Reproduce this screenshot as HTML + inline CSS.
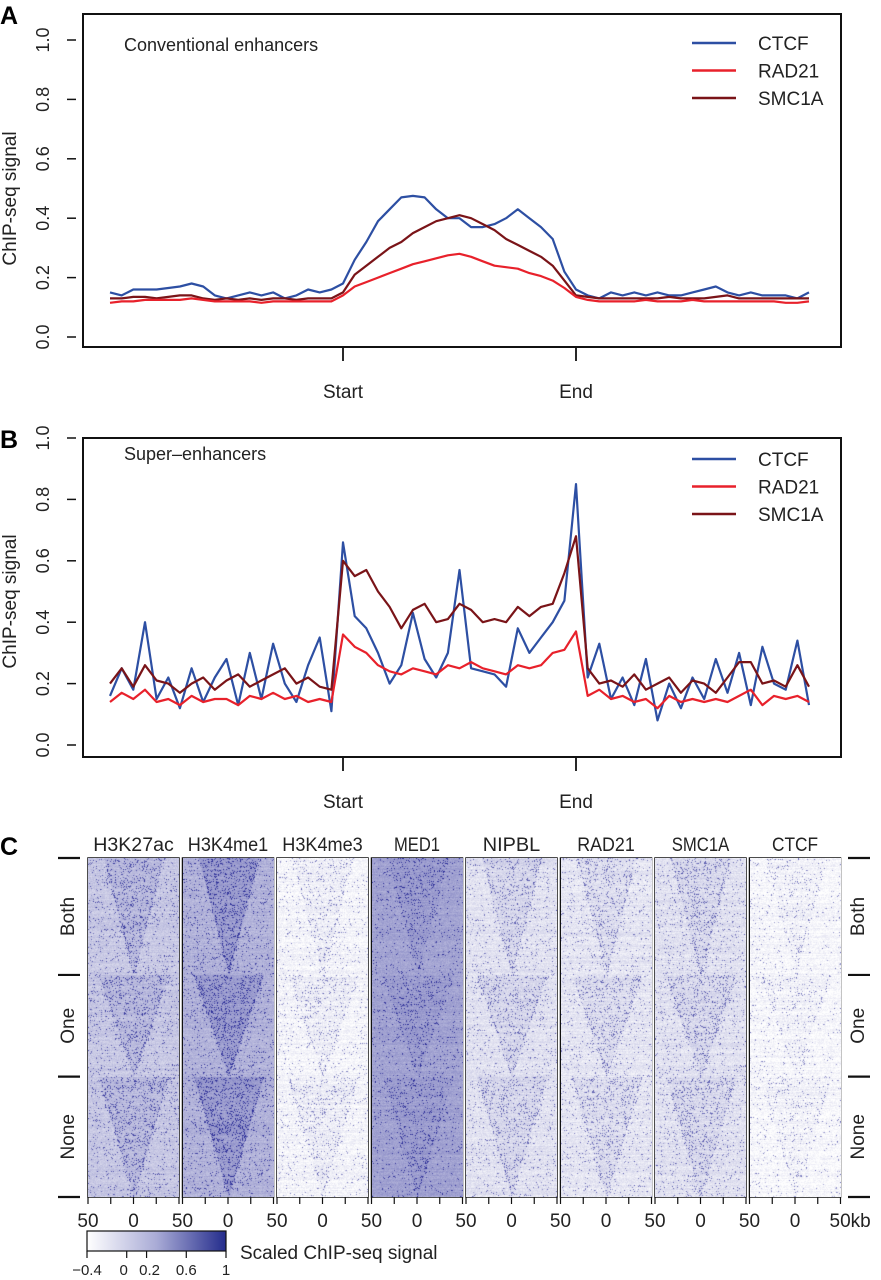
<!DOCTYPE html>
<html><head><meta charset="utf-8"><style>
html,body{margin:0;padding:0;background:#fff;}
#wrap{position:relative;width:881px;height:1280px;overflow:hidden;font-family:"Liberation Sans",sans-serif;}
svg{position:absolute;left:0;top:0;}
canvas{position:absolute;}
</style></head><body>
<div id="wrap">
<svg id="svg" width="881" height="1280"></svg>
</div>
<script>
// ---- data ----
const seriesNames = ["CTCF","RAD21","SMC1A"];
const seriesColors = ["#2d4fa3","#e8212b","#7a1418"];
// x-bins: -1..2 (Start=0, End=1), step 0.05
const aCTCF = [0.15,0.14,0.16,0.16,0.16,0.165,0.17,0.18,0.17,0.14,0.13,0.14,0.15,0.14,0.15,0.13,0.14,0.16,0.15,0.16,
0.18,0.26,0.32,0.39,0.43,0.47,0.475,0.47,0.43,0.40,0.40,0.37,0.37,0.38,0.40,0.43,0.40,0.37,0.33,0.22,0.16,
0.14,0.13,0.15,0.14,0.15,0.14,0.15,0.14,0.14,0.15,0.16,0.17,0.15,0.14,0.15,0.14,0.14,0.14,0.13,0.15];
const aRAD21 = [0.115,0.12,0.12,0.125,0.125,0.125,0.125,0.13,0.125,0.12,0.12,0.12,0.12,0.115,0.12,0.12,0.12,0.12,0.12,0.12,
0.14,0.17,0.185,0.20,0.215,0.23,0.245,0.255,0.265,0.275,0.28,0.27,0.255,0.24,0.235,0.23,0.215,0.205,0.19,0.165,0.135,
0.125,0.12,0.12,0.12,0.12,0.125,0.12,0.12,0.12,0.125,0.12,0.12,0.12,0.12,0.12,0.12,0.12,0.115,0.115,0.12];
const aSMC1A = [0.13,0.13,0.135,0.135,0.13,0.135,0.14,0.14,0.13,0.125,0.13,0.125,0.13,0.125,0.13,0.13,0.125,0.13,0.13,0.13,
0.15,0.21,0.24,0.27,0.30,0.32,0.35,0.37,0.39,0.40,0.41,0.40,0.38,0.36,0.33,0.31,0.29,0.27,0.24,0.19,0.14,
0.135,0.13,0.13,0.13,0.13,0.13,0.13,0.135,0.13,0.13,0.13,0.135,0.14,0.13,0.13,0.13,0.13,0.13,0.13,0.13];
const bCTCF = [0.16,0.25,0.18,0.40,0.15,0.22,0.12,0.25,0.14,0.22,0.28,0.13,0.30,0.15,0.33,0.20,0.14,0.26,0.35,0.11,
0.66,0.42,0.38,0.30,0.20,0.26,0.43,0.28,0.22,0.30,0.57,0.25,0.24,0.23,0.19,0.38,0.30,0.35,0.40,0.47,0.85,
0.22,0.33,0.15,0.22,0.13,0.28,0.08,0.20,0.12,0.22,0.15,0.28,0.17,0.30,0.13,0.32,0.20,0.18,0.34,0.13];
const bRAD21 = [0.14,0.17,0.15,0.18,0.14,0.15,0.13,0.16,0.14,0.15,0.15,0.13,0.16,0.15,0.17,0.15,0.16,0.14,0.15,0.14,
0.36,0.32,0.30,0.26,0.24,0.23,0.25,0.24,0.23,0.26,0.25,0.27,0.25,0.24,0.23,0.26,0.25,0.26,0.30,0.31,0.37,
0.16,0.18,0.15,0.16,0.14,0.15,0.12,0.16,0.14,0.15,0.14,0.15,0.14,0.16,0.18,0.13,0.16,0.15,0.16,0.14];
const bSMC1A = [0.20,0.25,0.19,0.26,0.21,0.20,0.17,0.20,0.22,0.18,0.21,0.23,0.19,0.21,0.23,0.25,0.20,0.22,0.19,0.18,
0.60,0.55,0.57,0.50,0.45,0.38,0.44,0.46,0.40,0.41,0.46,0.44,0.40,0.41,0.40,0.45,0.42,0.45,0.46,0.56,0.68,
0.25,0.20,0.21,0.19,0.23,0.18,0.20,0.22,0.17,0.21,0.20,0.17,0.22,0.27,0.27,0.20,0.21,0.19,0.26,0.19];
const yTicks = [0.0,0.2,0.4,0.6,0.8,1.0];
const yTickLabels = ["0.0","0.2","0.4","0.6","0.8","1.0"];
const xTickPos = [0,1];
const xTickLabels = ["Start","End"];
const marks = ["H3K27ac","H3K4me1","H3K4me3","MED1","NIPBL","RAD21","SMC1A","CTCF"];
const bgLevel = [0.26,0.36,0.05,0.44,0.14,0.12,0.14,0.04];
const wedgeLevel = [0.32,0.46,0.08,0.47,0.19,0.16,0.18,0.06];
const speckle = [0.09,0.10,0.05,0.06,0.07,0.07,0.08,0.04];
const groups = ["Both","One","None"];
const groupFrac = [0.345,0.30,0.355];
const cbTicks = [-0.4,0,0.2,0.6,1];
const cbTickLabels = ["\u22120.4","0","0.2","0.6","1"];

const NS="http://www.w3.org/2000/svg";
const svg=document.getElementById('svg');
function el(tag,attrs,parent,text){const e=document.createElementNS(NS,tag);for(const k in attrs)e.setAttribute(k,attrs[k]);if(text!==undefined)e.textContent=text;(parent||svg).appendChild(e);return e;}

function panel(cfg){
  const g=el('g',{});
  
  
  const X=v=>cfg.x0+(v-0)*(cfg.x1-cfg.x0);
  const Y=v=>cfg.y0-(v)*(cfg.y0-cfg.y1);
  const lab=el('text',{x:0,y:cfg.boxT+10,'font-size':25,'font-weight':'bold'},g,cfg.letter);
  
  const box=el('rect',{x:83,y:cfg.boxT,width:758,height:cfg.boxB-cfg.boxT,fill:'none',stroke:'#111','stroke-width':2},g);
  
  yTicks.forEach((t,i)=>{
    const y=Y(t);
    const tk=el('line',{x1:67,x2:76,y1:y,y2:y,stroke:'#111','stroke-width':1.5},g);
    
    const tx=el('text',{x:0,y:0,transform:`translate(49,${y}) rotate(-90)`,'text-anchor':'middle','font-size':18,fill:'#222'},g,yTickLabels[i]);
    
  });
  const yt=el('text',{x:0,y:0,transform:`translate(16,${(Y(0)+Y(1))/2+10}) rotate(-90)`,'text-anchor':'middle','font-size':19,fill:'#222'},g,'ChIP-seq signal');
  
  xTickPos.forEach((p,i)=>{
    const x=X(p);
    const tk=el('line',{x1:x,x2:x,y1:cfg.boxB,y2:cfg.boxB+14,stroke:'#111','stroke-width':1.8},g);
    
    const tx=el('text',{x:x,y:cfg.boxB+51,'text-anchor':'middle','font-size':19,fill:'#222'},g,xTickLabels[i]);
    
  });
  const tt=el('text',{x:124,y:cfg.titleY,'font-size':18,fill:'#222'},g,cfg.title);
  
  const order=[0,2,1];
  order.forEach(si=>{
    const d=cfg.data[si];
    const pts=d.map((v,i)=>`${X(-1+i*0.05).toFixed(1)},${Y(v).toFixed(1)}`).join(' ');
    const pl=el('polyline',{points:pts,fill:'none',stroke:seriesColors[si],'stroke-width':2.2,'stroke-linejoin':'round'},g);
    
  });
  seriesNames.forEach((n,i)=>{
    const ly=cfg.legY+i*27.5;
    const lg=el('g',{},g);
    
    el('line',{x1:692,x2:736,y1:ly,y2:ly,stroke:seriesColors[i],'stroke-width':2.5},lg);
    el('text',{x:758,y:ly+7,'font-size':19,fill:'#222'},lg,n);
  });
}
panel({name:'panel-a',letter:'A',boxT:14,boxB:347,x0:343,x1:576,y0:337,y1:40,title:'Conventional enhancers',titleY:51,legY:43,
  data:[aCTCF,aRAD21,aSMC1A]});
panel({name:'panel-b',letter:'B',boxT:438,boxB:757,x0:343,x1:576,y0:745,y1:438,title:'Super\u2013enhancers',titleY:460,legY:459,
  data:[bCTCF,bRAD21,bSMC1A]});

// ---- panel C ----
const gC=el('g',{});

const lc=el('text',{x:0,y:855,'font-size':25,'font-weight':'bold'},gC,'C');

const hmTop=858,hmBot=1197,colW=91,colStep=94.5,colX0=88;
let rng=12345;function rnd(){rng=(rng*1103515245+12345)&0x7fffffff;return rng/0x7fffffff;}
const wrap=document.getElementById('wrap');
const bounds=[0];groupFrac.forEach(f=>bounds.push(bounds[bounds.length-1]+f));
marks.forEach((m,c)=>{
  const x=colX0+c*colStep;
  const t=el('text',{x:x+colW/2,y:851,'text-anchor':'middle','font-size':19,fill:'#222',textLength:Math.min(90,m.length*11.5),lengthAdjust:'spacingAndGlyphs'},gC,m);
  
  const cv=document.createElement('canvas');
  const H=hmBot-hmTop,W=colW;
  cv.width=W;cv.height=H;cv.style.left=x+'px';cv.style.top=hmTop+'px';
  
  
  wrap.appendChild(cv);
  const ctx=cv.getContext('2d');const img=ctx.createImageData(W,H);
  const cx=W/2;
  for(let y=0;y<H;y++){
    const fy=y/H;let gi=0;while(gi<2&&fy>=bounds[gi+1])gi++;
    const gt=bounds[gi],gh=bounds[gi+1]-bounds[gi];
    const hw=(gi===0?30:35)*(1-(fy-gt)/gh);
    const rowN=(rnd()-0.5)*0.07;
    for(let xx=0;xx<W;xx++){
      const d=Math.abs(xx-cx);
      const inW=d<hw;
      const edge=Math.abs(d-hw)<2;
      let v=(inW?wedgeLevel[c]:bgLevel[c])+rowN+(rnd()-0.5)*0.12;
      const p=speckle[c]*(inW?1.6:0.6)*(edge?2:1);
      if(rnd()<p)v+=0.3+rnd()*0.35;
      v=Math.max(0,Math.min(1,v));
      const i=(y*W+xx)*4;
      img.data[i]=255-v*215;img.data[i+1]=255-v*213;img.data[i+2]=255-v*105;img.data[i+3]=255;
    }
  }
  ctx.putImageData(img,0,0);
  const fr=el('rect',{x:x,y:hmTop,width:W,height:H,fill:'none',stroke:'#111','stroke-width':1.5},gC);
  
  for(let k=0;k<=4;k++){
    const tx=x+k*W/4;
    const tk=el('line',{x1:tx,x2:tx,y1:hmBot,y2:hmBot+7,stroke:'#111','stroke-width':1.2},gC);
    
  }
  const z=el('text',{x:x+W/2,y:1227,'text-anchor':'middle','font-size':19,fill:'#222'},gC,'0');
  
  const f=el('text',{x:x,y:1227,'text-anchor':'middle','font-size':19,fill:'#222'},gC,'50');
  
});
const lastX=colX0+7*colStep+colW;
const ek=el('text',{x:lastX-11,y:1227,'font-size':19,fill:'#222'},gC,'50kb');

// group labels
groups.forEach((gname,i)=>{
  const yA=hmTop+bounds[i]*(hmBot-hmTop),yB=hmTop+bounds[i+1]*(hmBot-hmTop);
  [[66,0],[856,1]].forEach(([lx,side])=>{
    const t=el('text',{x:0,y:0,transform:`translate(${lx+8},${(yA+yB)/2}) rotate(-90)`,'text-anchor':'middle','font-size':19,fill:'#222'},gC,gname);
    
  });
});
bounds.forEach(b=>{
  const y=hmTop+b*(hmBot-hmTop);
  [[58,80],[848,870]].forEach(([a,bx])=>{
    const l=el('line',{x1:a,x2:bx,y1:y,y2:y,stroke:'#111','stroke-width':2.2},gC);
    
  });
});
// colorbar
const defs=el('defs',{});
const lg=el('linearGradient',{id:'cbg',x1:0,x2:1,y1:0,y2:0},defs);
el('stop',{offset:'0','stop-color':'#ffffff'},lg);
el('stop',{offset:'0.5','stop-color':'#a9abd6'},lg);
el('stop',{offset:'1','stop-color':'#242c8c'},lg);
const cbx0=87,cbx1=226;
const cb=el('rect',{x:cbx0,y:1231,width:cbx1-cbx0,height:20,fill:'url(#cbg)',stroke:'#111','stroke-width':1.2},gC);

const CX=v=>cbx0+(v+0.4)/1.4*(cbx1-cbx0);
cbTicks.forEach((v,i)=>{
  const x=CX(v);
  const tk=el('line',{x1:x,x2:x,y1:1251,y2:1258,stroke:'#111','stroke-width':1.2},gC);
  
  const tx=el('text',{x:x+(v===0?-3:v===0.2?3:0),y:1275,'text-anchor':'middle','font-size':15,fill:'#222'},gC,cbTickLabels[i]);
  
});
const cbt=el('text',{x:240,y:1259,'font-size':19,fill:'#222'},gC,'Scaled ChIP-seq signal');

</script>
</body></html>
